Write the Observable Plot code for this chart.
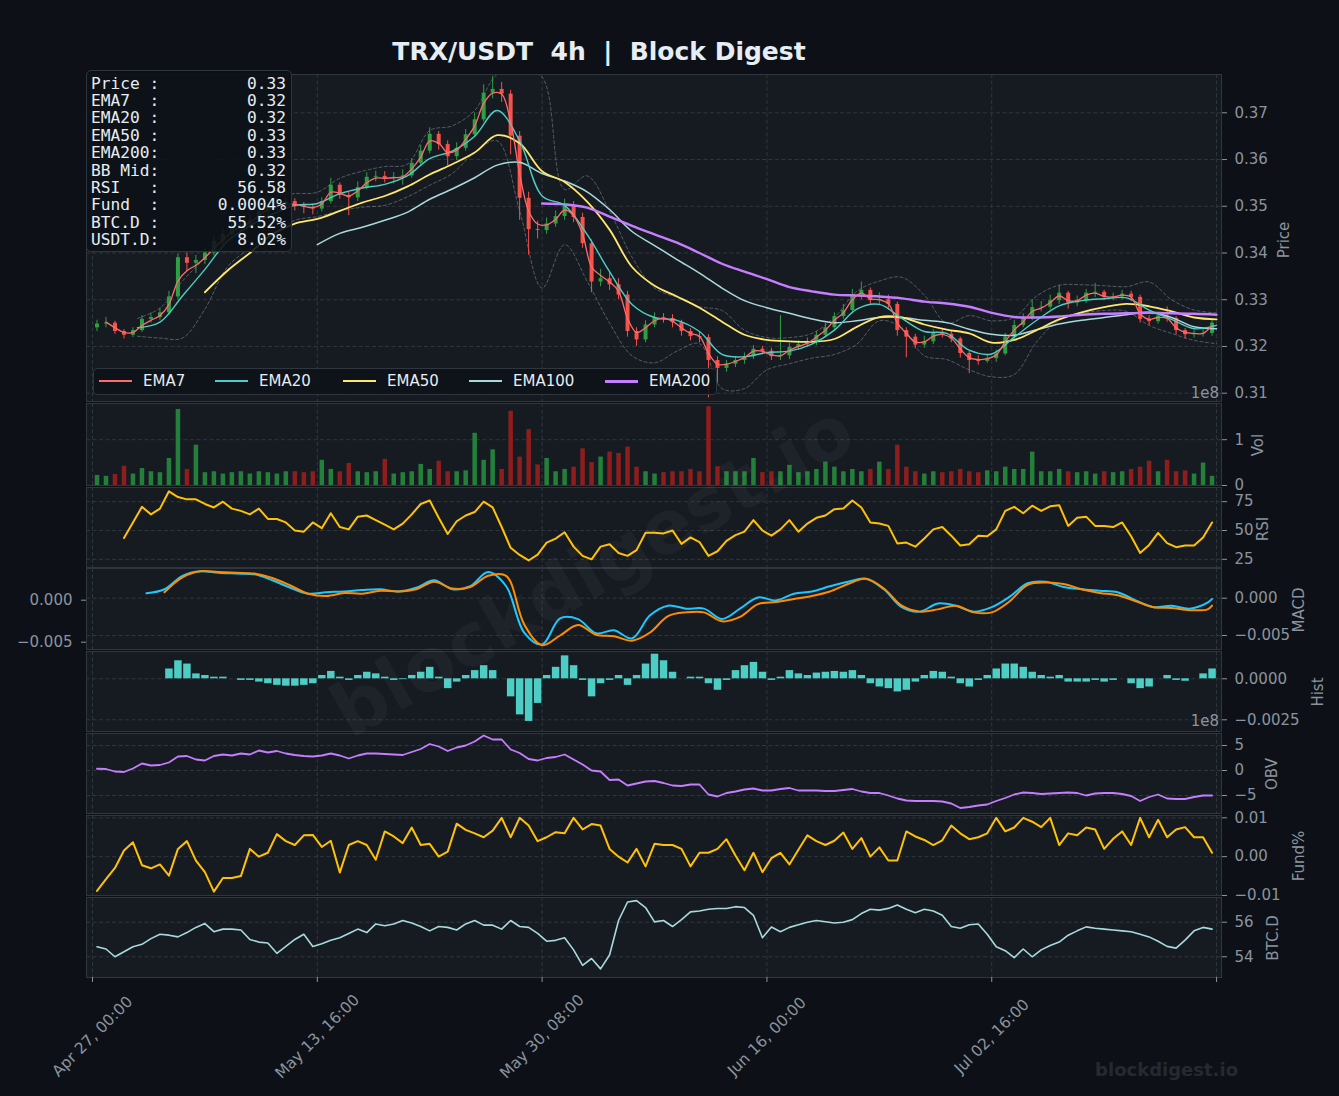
<!DOCTYPE html>
<html><head><meta charset="utf-8">
<script src="https://cdn.jsdelivr.net/npm/d3@7"></script>
<script src="https://cdn.jsdelivr.net/npm/@observablehq/plot@0.6"></script>
<style>
html,body{margin:0;padding:0;background:#0d1117;}
#fig{position:relative;width:1339px;height:1096px;background:#0d1117;overflow:hidden;font-family:"DejaVu Sans",sans-serif;}
.ylab{position:absolute;color:#8b949e;font-size:15px;transform:translate(-50%,-50%) rotate(-90deg);white-space:nowrap;}
</style></head><body><div id="fig"></div>
<script>
// ---------------- DATA ----------------
const xTickIdx = [0, 100, 200, 300, 400, 500];
const xTickLabels = ["Apr 27, 00:00", "May 13, 16:00", "May 30, 08:00", "Jun 16, 00:00", "Jul 02, 16:00", ""];
const candleIdx = d3.range(2, 500, 4);          // 125 groups of 4h candles
const emaIdx = d3.range(0, 501, 10);            // 51 points
const macdIdx = d3.range(0, 497, 8).concat([498]); // 64 points

const close = [.3248,.3250,.3232,.3224,.3234,.3258,.3262,.3272,.3306,.3390,
.3378,.3384,.3400,.3425,.3440,.3455,.3462,.3470,.3490,.3500,
.3505,.3510,.3503,.3498,.3494,.3510,.3545,.3523,.3518,.3540,
.3562,.3564,.3560,.3562,.3565,.3592,.3618,.3654,.3632,.3606,
.3624,.3653,.3685,.3742,.3750,.3740,.3650,.3517,.3450,.3448,
.3462,.3478,.3500,.3476,.3420,.3338,.3345,.3332,.3310,.3232,
.3214,.3246,.3262,.3260,.3251,.3232,.3221,.3219,.3170,.3153,
.3162,.3170,.3178,.3194,.3190,.3178,.3180,.3198,.3204,.3209,
.3224,.3240,.3264,.3277,.3310,.3320,.3298,.3300,.3290,.3234,
.3220,.3203,.3210,.3228,.3226,.3216,.3185,.3170,.3168,.3174,
.3184,.3220,.3245,.3260,.3283,.3284,.3298,.3314,.3293,.3298,
.3314,.3316,.3305,.3306,.3312,.3305,.3258,.3253,.3265,.3260,
.3234,.3225,.3227,.3228,.3250];
const high = [.3256,.3262,.3254,.3236,.3240,.3266,.3272,.3282,.3318,.3398,
.3400,.3395,.3412,.3436,.3450,.3465,.3474,.3482,.3502,.3512,
.3516,.3520,.3516,.3508,.3504,.3518,.3560,.3550,.3530,.3552,
.3572,.3575,.3574,.3572,.3578,.3602,.3630,.3668,.3660,.3640,
.3636,.3664,.3700,.3760,.3778,.3765,.3748,.3660,.3530,.3468,
.3475,.3490,.3515,.3510,.3485,.3428,.3365,.3358,.3345,.3318,
.3240,.3255,.3272,.3270,.3268,.3256,.3238,.3230,.3225,.3178,
.3170,.3178,.3186,.3202,.3200,.3196,.3266,.3206,.3212,.3218,
.3232,.3250,.3272,.3290,.3322,.3338,.3325,.3315,.3310,.3295,
.3240,.3226,.3222,.3236,.3236,.3232,.3220,.3190,.3180,.3182,
.3192,.3228,.3256,.3270,.3300,.3296,.3310,.3331,.3318,.3308,
.3322,.3335,.3320,.3314,.3320,.3318,.3310,.3266,.3272,.3285,
.3264,.3238,.3234,.3236,.3258];
const low = [.3232,.3240,.3226,.3216,.3219,.3230,.3250,.3256,.3266,.3300,
.3360,.3356,.3375,.3394,.3415,.3432,.3446,.3452,.3464,.3482,
.3490,.3496,.3490,.3484,.3482,.3488,.3505,.3515,.3480,.3510,
.3535,.3552,.3550,.3548,.3545,.3560,.3585,.3612,.3620,.3587,
.3598,.3618,.3648,.3680,.3730,.3722,.3610,.3470,.3395,.3430,
.3440,.3455,.3470,.3465,.3410,.3315,.3328,.3320,.3300,.3220,
.3200,.3208,.3240,.3250,.3240,.3222,.3212,.3208,.3090,.3122,
.3145,.3155,.3162,.3172,.3182,.3170,.3170,.3172,.3192,.3198,
.3202,.3218,.3235,.3258,.3270,.3300,.3290,.3290,.3278,.3222,
.3176,.3195,.3196,.3204,.3218,.3208,.3175,.3142,.3160,.3164,
.3166,.3180,.3215,.3240,.3255,.3274,.3278,.3290,.3280,.3285,
.3292,.3305,.3298,.3298,.3300,.3296,.3250,.3244,.3248,.3252,
.3225,.3216,.3218,.3220,.3222];
const firstOpen = 0.3240;

const ema7 = [null,.3252,.3240,.3230,.3230,.3245,.3256,.3266,.3290,.3340,
.3362,.3374,.3390,.3410,.3428,.3445,.3455,.3465,.3480,.3492,
.3500,.3505,.3504,.3500,.3497,.3505,.3530,.3528,.3522,.3533,
.3550,.3560,.3560,.3561,.3563,.3580,.3605,.3640,.3635,.3615,
.3620,.3643,.3672,.3720,.3742,.3740,.3680,.3570,.3490,.3462,
.3460,.3472,.3492,.3480,.3440,.3370,.3352,.3338,.3318,.3260,
.3230,.3240,.3255,.3260,.3254,.3240,.3228,.3222,.3185,.3162,
.3162,.3168,.3176,.3190,.3190,.3182,.3180,.3192,.3200,.3207,
.3220,.3235,.3256,.3272,.3300,.3314,.3302,.3300,.3292,.3250,
.3228,.3210,.3210,.3222,.3226,.3218,.3195,.3176,.3172,.3174,
.3182,.3210,.3235,.3253,.3275,.3282,.3294,.3308,.3298,.3298,
.3310,.3314,.3307,.3306,.3310,.3306,.3270,.3258,.3262,.3260,
.3240,.3230,.3228,.3228,.3245];
const ema20 = [null,null,.3240,.3252,.3308,.3365,.3425,.3458,.3483,.3502,
.3506,.3527,.3539,.3547,.3565,.3602,.3618,.3650,.3705,.3640,
.3522,.3502,.3440,.3360,.3290,.3262,.3256,.3232,.3183,.3178,
.3187,.3190,.3205,.3235,.3280,.3290,.3260,.3232,.3228,.3192,
.3184,.3220,.3256,.3287,.3298,.3302,.3304,.3278,.3258,.3238,
.3245];
const ema50 = [null,null,null,null,null,.3316,.3362,.3400,.3440,.3463,
.3473,.3490,.3508,.3522,.3542,.3568,.3590,.3615,.3652,.3635,
.3575,.3552,.3510,.3450,.3370,.3330,.3307,.3283,.3253,.3225,
.3214,.3211,.3210,.3216,.3242,.3263,.3262,.3247,.3236,.3228,
.3208,.3214,.3235,.3258,.3273,.3284,.3291,.3286,.3275,.3262,
.3258];
const ema100 = [null,null,null,null,null,null,null,null,null,null,
.3418,.3442,.3455,.3470,.3487,.3515,.3537,.3561,.3588,.3594,
.3570,.3554,.3531,.3493,.3446,.3416,.3386,.3357,.3325,.3298,
.3283,.3271,.3259,.3251,.3255,.3262,.3262,.3256,.3251,.3237,
.3226,.3224,.3236,.3248,.3256,.3262,.3268,.3273,.3262,.3242,
.3238];
const ema200 = [null,null,null,null,null,null,null,null,null,null,
null,null,null,null,null,null,null,null,null,null,
.3506,.3504,.3497,.3478,.3458,.3440,.3422,.3400,.3377,.3360,
.3344,.3327,.3318,.3311,.3309,.3307,.3303,.3296,.3292,.3285,
.3272,.3263,.3262,.3264,.3268,.3270,.3271,.3272,.3271,.3270,
.3268];
const bbUpper = [null,null,.3260,.3282,.3340,.3390,.3450,.3490,.3520,.3527,
.3530,.3560,.3575,.3585,.3590,.3662,.3672,.3705,.3782,.3790,
.3776,.3536,.3565,.3490,.3391,.3325,.3305,.3285,.3277,.3235,
.3219,.3219,.3228,.3262,.3318,.3340,.3348,.3310,.3250,.3266,
.3255,.3262,.3308,.3331,.3332,.3330,.3328,.3338,.3300,.3278,
.3272];
const bbLower = [null,null,.3222,.3218,.3218,.3280,.3370,.3410,.3440,.3470,
.3478,.3490,.3498,.3502,.3520,.3545,.3570,.3615,.3640,.3490,
.3325,.3418,.3340,.3250,.3180,.3165,.3190,.3206,.3110,.3110,
.3150,.3163,.3175,.3183,.3205,.3255,.3240,.3180,.3172,.3150,
.3135,.3140,.3210,.3256,.3270,.3277,.3275,.3245,.3228,.3213,
.3206];

const volume = [.22,.2,.24,.42,.25,.37,.3,.28,.59,1.66,
.35,.88,.28,.3,.25,.28,.3,.25,.3,.28,
.25,.3,.3,.28,.3,.55,.35,.3,.48,.3,
.28,.3,.57,.25,.28,.3,.46,.35,.53,.3,
.3,.32,1.14,.55,.78,.35,1.62,.62,1.22,.45,
.59,.3,.35,.4,.8,.5,.62,.73,.7,.84,
.4,.3,.25,.28,.3,.3,.35,.3,1.72,.41,
.3,.3,.3,.59,.28,.3,.3,.44,.28,.3,
.35,.51,.4,.3,.35,.3,.35,.51,.35,.88,
.4,.3,.25,.3,.28,.3,.35,.3,.28,.32,
.3,.4,.35,.35,.73,.3,.3,.35,.3,.28,
.3,.25,.3,.28,.3,.35,.4,.53,.3,.55,
.3,.32,.25,.49,.2];

const rsi = [null,null,null,43.5,57,70.5,64,69,84,79,
77,77,73,70,75,69,67,64,69,60,
60,57,50,49,57,52,65,53,51,62,
63,59,55,51,56,64,73,76,61,47,
58,63,66,75,70,53,35,28.8,24,29,
39.5,43,48.5,36,28,25,36,38,30.5,28,
33,48,48,47.5,50,38.4,44,40,28,32,
41,46,49,59,50,45.5,51,59,49,56,
61,63,68.5,69,76,70,57,56,54,38.8,
39.5,36,43,51,53,45.5,37,38,45.5,45,
51,67,70.5,65,71.5,67,71,72,54,61,
62,54,54,53,57,45,30.5,37.5,48,39,
35.5,37,37,44,57];

const macd = [null,null,null,.00065,.0012,.0030,.0036,.0034,.0033,.0032,
.0024,.0014,.0006,.0008,.0009,.0011,.0012,.0009,.0014,.0024,
.0012,.0016,.0035,.0016,-.0046,-.0062,-.0027,-.0028,-.0047,-.0043,
-.0054,-.0023,-.0010,-.0014,-.0014,-.0028,-.0014,.0001,-.0003,.0006,
.0009,.0016,.0022,.0026,.0012,-.0012,-.0018,-.0007,-.0010,-.0018,
-.0012,.0002,.0020,.0022,.0015,.0012,.0010,.0008,-.0003,-.0012,
-.0010,-.0014,-.0006,-.0001];
const signal = [null,null,null,null,.0008,.0028,.0036,.0035,.0034,.0033,
.0027,.0017,.0006,.0003,.0007,.0006,.0010,.0009,.0012,.0022,
.0013,.0015,.0030,.0030,-.0035,-.0063,-.0050,-.0036,-.0049,-.0051,
-.0057,-.0046,-.0024,-.0019,-.0019,-.0031,-.0025,-.0008,-.0005,-.0001,
.0003,.0009,.0019,.0026,.0013,-.0010,-.0018,-.0015,-.0010,-.0019,
-.0019,-.0004,.0018,.0021,.0019,.0012,.0007,.0004,-.0004,-.0012,
-.0013,-.0016,-.0015,-.0010];
const hist = [null,null,null,null,null,null,null,null,
.0006,.0011,.0009,.0003,.0002,.0001,.0001,0,-.0001,-.0001,
-.0002,-.0003,-.0004,-.00045,-.00045,-.0004,-.0003,.0002,.00045,.0001,
-.0001,.0002,.0004,.0003,.0001,-.0001,-.00005,.0002,.0004,.0007,
.0001,-.0006,-.0002,.0002,.0005,.0008,.0005,0,-.0011,-.0022,
-.0026,-.0015,.0002,.0007,.0014,.0008,-.0001,-.0011,-.0003,-.0001,
.0002,-.0004,.0002,.0009,.0015,.0011,.0004,0,.0001,.0001,
-.0003,-.0007,-.0001,.0005,.0008,.001,.0004,-.0001,.0001,.0005,
.0003,.0002,.00035,.0004,.00045,.0004,.0005,.0002,-.0003,-.0005,
-.0006,-.0008,-.0007,-.0002,.0002,.00045,.0004,.0001,-.0003,-.0005,
-.0001,.0002,.0006,.0009,.0009,.0007,.0004,.0002,.0001,.0002,
-.0002,-.0002,-.0002,-.0001,-.0002,-.0001,0,-.0003,-.0006,-.0005,
0,.0002,-.0001,-.00015,0,.0003,.0006];

const obv = [.35,.3,-.2,-.3,.4,1.4,1.0,1.1,1.6,2.8,
2.9,2.2,2.0,2.9,3.2,3.0,3.4,3.2,4.0,3.6,
3.9,3.4,3.1,2.9,2.8,3.0,3.4,3.0,2.4,3.0,
3.4,3.4,3.3,3.2,3.1,3.7,4.3,5.3,4.8,3.9,
4.6,5.0,5.8,7.0,6.2,6.2,4.2,3.5,2.3,2.0,
2.5,2.7,3.2,2.2,1.2,0,-.2,-1.9,-1.8,-3.0,
-2.6,-2.2,-2.1,-2.5,-3.0,-3.1,-2.8,-2.8,-4.8,-5.2,
-4.5,-4.2,-3.8,-3.6,-4.0,-4.0,-3.7,-3.5,-4.0,-4.0,
-4.0,-4.1,-4.1,-3.9,-3.7,-4.2,-4.5,-4.5,-5.0,-5.6,
-6.0,-6.1,-6.1,-6.1,-6.2,-6.6,-7.5,-7.3,-7.0,-6.8,
-6.1,-5.5,-4.8,-4.4,-4.5,-4.7,-4.6,-4.5,-4.4,-4.5,
-5.0,-4.6,-4.5,-4.5,-4.7,-5.1,-6.1,-5.3,-4.8,-5.6,
-5.7,-5.7,-5.3,-5.0,-5.0];

const fund = [-.0088,-.0058,-.0029,.0016,.0037,-.0022,-.003,-.002,-.0049,.002,
.004,-.001,-.004,-.009,-.0055,-.0055,-.005,.002,0,.001,
.0058,.004,.003,.0055,.0056,.0025,.0041,-.0041,.003,.004,
.003,-.0008,.0065,.0052,.0035,.0075,.003,.0033,0,.0013,
.0085,.0069,.006,.005,.0067,.01,.005,.01,.008,.004,
.005,.0063,.006,.01,.007,.0084,.008,.002,0,-.0015,
.002,-.0025,.0033,.003,.003,.002,-.0025,.001,.001,.002,
.0045,.0003,-.0035,.001,-.004,-.0004,.001,-.002,.0018,.0055,
.004,.003,.0041,.0062,.002,.0048,0,.0024,-.001,-.001,
.0065,.0052,.0043,.003,.0042,.008,.006,.0045,.005,.006,
.01,.0065,.0075,.01,.009,.0076,.01,.003,.006,.0055,
.0075,.007,.002,.0046,.0065,.003,.01,.005,.0095,.005,
.007,.0076,.005,.005,.001];

const btcd = [54.58,54.45,54.0,54.29,54.58,54.72,55.05,55.3,55.25,55.15,
55.4,55.7,55.92,55.45,55.6,55.6,55.55,55.0,54.85,54.8,
54.2,54.6,55.0,55.3,54.6,54.75,54.95,55.1,55.35,55.6,
55.4,55.9,55.8,55.9,56.1,55.95,55.75,55.5,55.75,55.7,
55.55,55.9,56.1,55.83,55.83,55.6,56.1,55.75,55.7,55.35,
54.9,54.95,55.1,54.4,53.5,53.9,53.3,54.1,56.1,57.17,
57.25,56.85,56.02,56.1,55.75,56.15,56.6,56.65,56.75,56.79,
56.79,56.9,56.85,56.4,55.1,55.72,55.45,55.7,55.85,56.0,
56.1,56.03,55.95,56.0,56.15,56.5,56.75,56.7,56.8,57.0,
56.75,56.55,56.75,56.65,56.4,55.75,55.65,55.85,55.9,55.3,
54.58,54.35,53.95,54.45,54.0,54.4,54.65,54.85,55.25,55.5,
55.73,55.65,55.6,55.55,55.5,55.45,55.3,55.15,54.9,54.6,
54.5,54.96,55.5,55.7,55.6];

const infoLabels = ["Price :", "EMA7  :", "EMA20 :", "EMA50 :", "EMA200:", "BB Mid:", "RSI   :", "Fund  :", "BTC.D :", "USDT.D:"];
const infoValues = ["0.33", "0.32", "0.32", "0.33", "0.33", "0.32", "56.58", "0.0004%", "55.52%", "8.02%"];
const legendNames = ["EMA7", "EMA20", "EMA50", "EMA100", "EMA200"];

// ---------------- STYLE / LAYOUT ----------------
const C = {fig:"#0d1117", panel:"#161b22", border:"#30363d", grid:"#30363d", tick:"#8b949e", text:"#e6edf3",
  up:"#2ea043", dn:"#f85149", vup:"#23803a", vdn:"#8e1d1d",
  ema7:"#ff6b6b", ema20:"#4ecdc4", ema50:"#ffe66d", ema100:"#a8dadc", ema200:"#c77dff",
  bb:"#8b949e", rsi:"#ffc107", macd:"#1ec8ff", sig:"#ff8c00", hist:"#4ecdc4", obv:"#c77dff", fund:"#ffc107", btc:"#a8dadc"};
const legendColors = [C.ema7, C.ema20, C.ema50, C.ema100, C.ema200];
const legendWidths = [2, 2, 2, 2, 3];
const W = 1339, ML = 86, MR = 118;
const xDomain = [-2.67, 502.2];
const DASH = "4,2.5";
const fig = document.getElementById("fig");

const candles = candleIdx.map((t, i) => ({t, open: i ? close[i-1] : firstOpen, close: close[i], high: high[i], low: low[i], vol: volume[i]}));
candles.forEach(d => d.up = d.close >= d.open);
const ser = (idx, vals) => idx.map((t, i) => ({t, v: vals[i]}));
const baseStyle = {background: "transparent", color: C.tick, fontFamily: "DejaVu Sans, sans-serif", fontSize: "15px", overflow: "visible"};

function panel({top, h, yDomain, yTicks, yFmt, marks, mb = 10, extra = []}) {
  const mt = 10;
  const svg = Plot.plot({
    width: W, height: h + mt + mb,
    marginLeft: ML, marginRight: MR, marginTop: mt, marginBottom: mb,
    x: {domain: xDomain, axis: null},
    y: {domain: yDomain, axis: null},
    style: baseStyle,
    marks: [
      Plot.frame({fill: C.panel, stroke: "none"}),
      Plot.gridX(xTickIdx, {stroke: C.grid, strokeOpacity: 1, strokeDasharray: DASH}),
      Plot.gridY(yTicks, {stroke: C.grid, strokeOpacity: 1, strokeDasharray: DASH}),
      ...marks,
      Plot.frame({stroke: C.border, fill: "none"}),
      Plot.axisY(yTicks, {anchor: "right", tickFormat: yFmt, tickSize: 5, tickPadding: 8, fontSize: 15, label: null}),
      ...extra
    ]
  });
  svg.style.position = "absolute"; svg.style.left = "0px"; svg.style.top = (top - mt) + "px";
  fig.appendChild(svg);
}

const line = (data, color, w, curve = "linear", extra = {}) =>
  Plot.line(data, {x: "t", y: "v", stroke: color, strokeWidth: w, curve, clip: true, ...extra});

// Price panel
panel({top: 74, h: 327, yDomain: [0.308224, 0.378196], yTicks: [0.31, 0.32, 0.33, 0.34, 0.35, 0.36, 0.37], yFmt: d3.format(".2f"),
  marks: [
    line(ser(emaIdx, bbUpper), C.bb, 0.9, "catmull-rom", {strokeOpacity: 0.6, strokeDasharray: "3,2.5"}),
    line(ser(emaIdx, bbLower), C.bb, 0.9, "catmull-rom", {strokeOpacity: 0.6, strokeDasharray: "3,2.5"}),
    Plot.ruleX(candles.filter(d => d.up), {x: "t", y1: "low", y2: "high", stroke: C.up, strokeWidth: 1, clip: true}),
    Plot.ruleX(candles.filter(d => !d.up), {x: "t", y1: "low", y2: "high", stroke: C.dn, strokeWidth: 1, clip: true}),
    Plot.ruleX(candles.filter(d => d.up), {x: "t", y1: "open", y2: "close", stroke: C.up, strokeWidth: 4, clip: true}),
    Plot.ruleX(candles.filter(d => !d.up), {x: "t", y1: "open", y2: "close", stroke: C.dn, strokeWidth: 4, clip: true}),
    line(ser(emaIdx, ema100), C.ema100, 1.5, "catmull-rom"),
    line(ser(emaIdx, ema50), C.ema50, 1.8, "catmull-rom"),
    line(ser(emaIdx, ema200), C.ema200, 2.4, "catmull-rom"),
    line(ser(emaIdx, ema20), C.ema20, 1.4, "catmull-rom"),
    line(ser(candleIdx, ema7), C.ema7, 1.3, "catmull-rom")
  ]});

// Volume
panel({top: 403, h: 82, yDomain: [0, 1.79], yTicks: [0, 1], yFmt: d3.format("d"),
  marks: [
    Plot.ruleX(candles.filter(d => d.up), {x: "t", y1: 0, y2: "vol", stroke: C.vup, strokeWidth: 4.5}),
    Plot.ruleX(candles.filter(d => !d.up), {x: "t", y1: 0, y2: "vol", stroke: C.vdn, strokeWidth: 4.5})
  ]});

// RSI
panel({top: 487, h: 80, yDomain: [17.9, 87.3], yTicks: [25, 50, 75], yFmt: d3.format("d"),
  marks: [line(ser(candleIdx, rsi), C.rsi, 2)]});

// MACD
panel({top: 568, h: 81, yDomain: [-0.006877, 0.003981], yTicks: [-0.005, 0], yFmt: d3.format(".3f"),
  marks: [
    line(ser(macdIdx, macd), C.macd, 2, "catmull-rom"),
    line(ser(macdIdx, signal), C.sig, 2, "catmull-rom")
  ]});
// MACD left axis (twin)
{
  const svg = Plot.plot({
    width: W, height: 101, marginLeft: ML, marginRight: MR, marginTop: 10, marginBottom: 10,
    x: {domain: xDomain, axis: null}, y: {domain: [-0.005869, 0.003774], axis: null},
    style: baseStyle,
    marks: [Plot.axisY([-0.005, 0], {anchor: "left", tickFormat: d3.format(".3f"), tickSize: 5, tickPadding: 9, fontSize: 15, label: null})]
  });
  svg.style.position = "absolute"; svg.style.left = "0px"; svg.style.top = "558px";
  fig.appendChild(svg);
}

// Hist
panel({top: 651, h: 80, yDomain: [-0.003213, 0.001665], yTicks: [-0.0025, 0], yFmt: d3.format(".4f"),
  marks: [Plot.ruleX(ser(candleIdx, hist).filter(d => d.v != null), {x: "t", y1: 0, y2: "v", stroke: C.hist, strokeWidth: 7.5})]});

// OBV
panel({top: 733, h: 80, yDomain: [-8.6, 7.4], yTicks: [-5, 0, 5], yFmt: d3.format("d"),
  marks: [line(ser(candleIdx, obv), C.obv, 1.8)]});

// Funding
panel({top: 815, h: 80, yDomain: [-0.0100, 0.0106], yTicks: [-0.01, 0, 0.01], yFmt: d3.format(".2f"),
  marks: [line(ser(candleIdx, fund), C.fund, 2)]});

// BTC dominance + x axis
panel({top: 897, h: 80, yDomain: [52.80, 57.43], yTicks: [54, 56], yFmt: d3.format("d"), mb: 120,
  marks: [line(ser(candleIdx, btcd), C.btc, 1.6)],
  extra: [
    Plot.axisX(xTickIdx, {anchor: "bottom", tickSize: 5, tickFormat: () => "", label: null}),
    Plot.text(xTickIdx.slice(0, 5), {x: d => d, text: (d, i) => xTickLabels[i], frameAnchor: "bottom", dy: 59,
      rotate: -45, textAnchor: "middle", lineAnchor: "middle", fill: C.tick, fontSize: 15.5})
  ]});

// ---------------- TEXT OVERLAYS ----------------
function addDiv(html, css) { const d = document.createElement("div"); d.innerHTML = html; Object.assign(d.style, css); fig.appendChild(d); return d; }

// watermark
addDiv("blockdigest.io", {position: "absolute", left: "592px", top: "570px", transform: "translate(-50%,-50%) rotate(-30deg)",
  fontSize: "74px", fontWeight: "bold", color: "rgba(255,255,255,0.035)", whiteSpace: "nowrap"});

// title
addDiv("TRX/USDT  4h  |  Block Digest", {position: "absolute", left: "0px", width: "1198px", top: "37px", textAlign: "center",
  fontSize: "25px", fontWeight: "bold", color: C.text, whiteSpace: "pre", lineHeight: "30px"});

// info box
const infoText = infoLabels.map((l, i) => l + infoValues[i].padStart(13)).join("\n");
addDiv("", {position: "absolute", left: "86px", top: "70px", width: "206px", height: "182px", background: "rgba(13,17,23,0.88)",
  border: "1px solid " + C.border, borderRadius: "5px", boxSizing: "border-box"});
addDiv(infoText, {position: "absolute", left: "91px", top: "74.5px", fontFamily: "DejaVu Sans Mono, monospace",
  fontSize: "16.2px", lineHeight: "17.4px", color: C.text, whiteSpace: "pre"});

// legend
addDiv("", {position: "absolute", left: "93px", top: "368px", width: "624px", height: "27px", background: "rgba(13,17,23,0.85)",
  border: "1px solid " + C.border, borderRadius: "4px", boxSizing: "border-box"});
const legendSwatchX = [99, 215, 343, 469, 605];
legendNames.forEach((n, i) => {
  addDiv("", {position: "absolute", left: legendSwatchX[i] + "px", top: (381 - legendWidths[i] / 2) + "px", width: "33px", height: legendWidths[i] + "px", background: legendColors[i]});
  addDiv(n, {position: "absolute", left: (legendSwatchX[i] + 44) + "px", top: "372px", fontSize: "15px", lineHeight: "18px", color: C.text, whiteSpace: "nowrap"});
});

// y-axis labels
const yLabels = [["Price", 1284, 240], ["Vol", 1258, 445], ["RSI", 1263, 529], ["MACD", 1299, 610], ["Hist", 1318, 692],
  ["OBV", 1272, 774], ["Fund%", 1299, 856], ["BTC.D", 1273, 938]];
yLabels.forEach(([t, x, y]) => { const d = addDiv(t, {left: x + "px", top: y + "px"}); d.className = "ylab"; });

// offset texts
addDiv("1e8", {position: "absolute", right: (1339 - 1219) + "px", top: "384px", fontSize: "15px", color: C.tick, lineHeight: "18px"});
addDiv("1e8", {position: "absolute", right: (1339 - 1219) + "px", top: "712px", fontSize: "15px", color: C.tick, lineHeight: "18px"});

// bottom-right brand
addDiv("blockdigest.io", {position: "absolute", right: (1339 - 1238) + "px", top: "1059px", fontSize: "18px", fontWeight: "bold",
  color: "#252a31", whiteSpace: "nowrap", lineHeight: "22px"});
</script></body></html>
